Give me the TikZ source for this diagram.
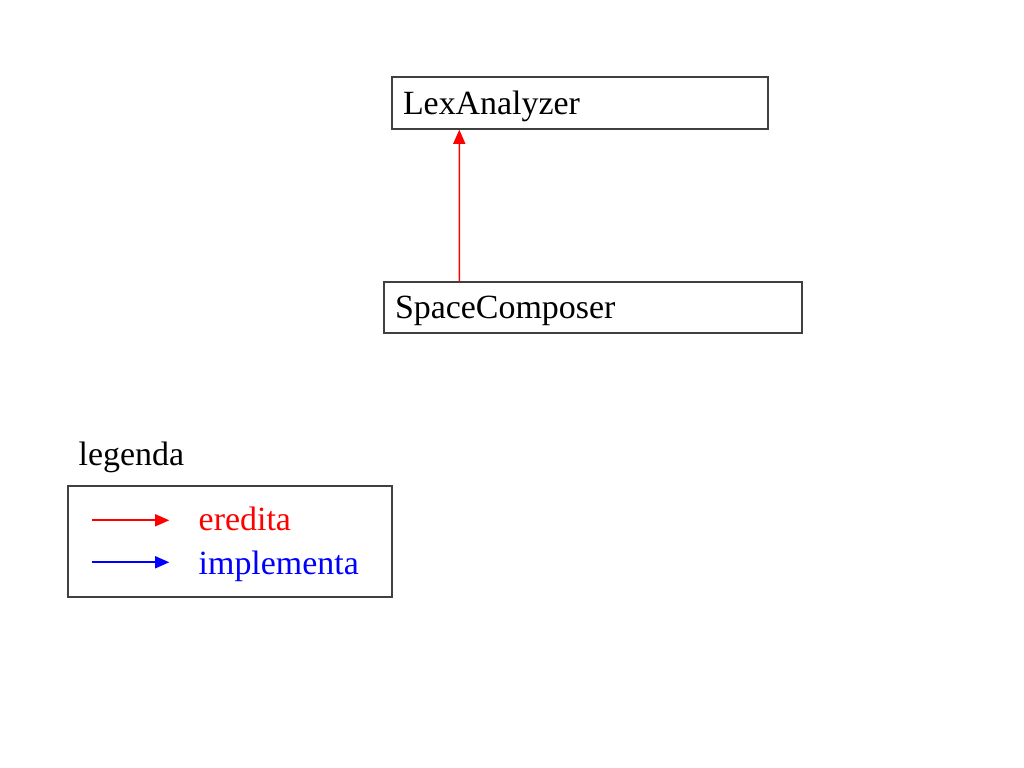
\documentclass[tikz,border=0pt]{standalone}
\usepackage{fontspec}
\setmainfont{Liberation Serif}
\usetikzlibrary{arrows.meta}

\begin{document}
\begin{tikzpicture}[
	font=\fontsize{9.65}{11}\selectfont,
	cls/.style={draw=black!75,line width=0.4pt,inner xsep=0.11cm,inner ysep=0pt,align=left,text depth=0pt,minimum height=0.52cm},
	inh/.style={red,line width=0.45pt,-{Triangle[length=4pt,width=3.4pt]}},
	impl/.style={blue,line width=0.45pt,-{Triangle[length=4pt,width=3.4pt]}}]
	\useasboundingbox (0,0) rectangle (10.24,7.68);
	
	\node[cls,text width=3.54cm] (lex) at (5.80,6.65) {LexAnalyzer};
	\node[cls,text width=3.96cm,minimum height=0.51cm] (spc) at (5.93,4.605) {SpaceComposer};
	\draw[inh] ([xshift=0.76cm]spc.north west) -- ([xshift=0.68cm]lex.south west);
	
	% legenda
	\node[anchor=base west,inner sep=0] (leg) at (0.78,3.02) {legenda};
	\node[draw=black!75,line width=0.4pt,minimum width=3.24cm,minimum height=1.11cm,inner sep=0] (legbox) at (2.30,2.265) {};
	\coordinate (r0) at ([xshift=0.25cm,yshift=-0.35cm]legbox.north west);
	\coordinate (r1) at ([xshift=1.02cm,yshift=-0.35cm]legbox.north west);
	\coordinate (b0) at ([xshift=0.25cm,yshift=-0.77cm]legbox.north west);
	\coordinate (b1) at ([xshift=1.02cm,yshift=-0.77cm]legbox.north west);
	\draw[inh] (r0) -- (r1);
	\draw[impl] (b0) -- (b1);
	\node[anchor=base west,inner sep=0,text=red] (ered) at (1.98,2.37) {eredita};
	\node[anchor=base west,inner sep=0,text=blue] (impl) at (1.98,1.93) {implementa};
\end{tikzpicture}
\end{document}
